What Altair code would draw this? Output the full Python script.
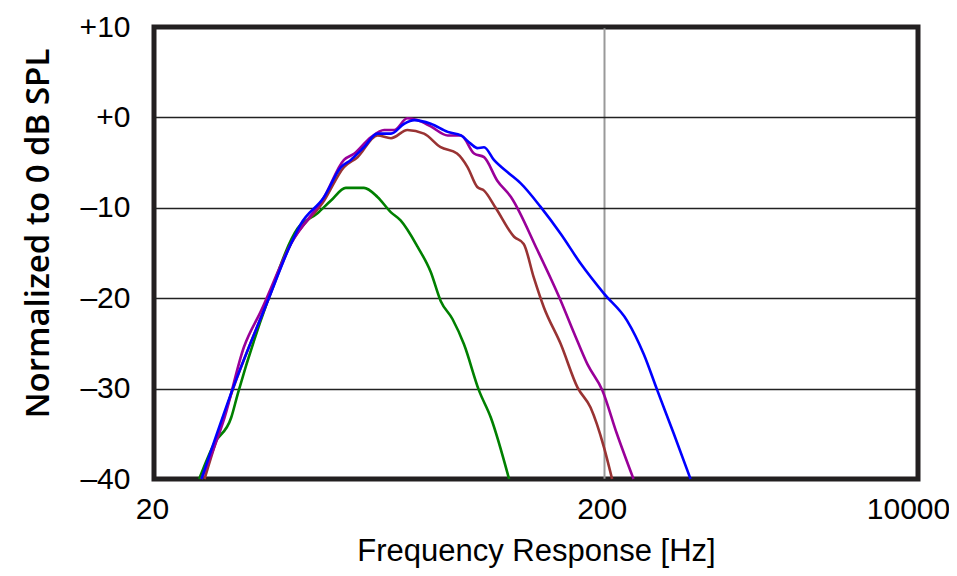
import altair as alt
import pandas as pd

# Series (frequency in Hz, level in dB)
green_f = [25.2, 27.2, 29.7, 30.7, 35.8, 41.7, 46.2, 49.5, 53.4, 58.6, 62.8, 67.3, 70.7, 77.1, 82.5, 86.8, 92.2, 97.8, 105.6, 112.2, 123.2]
green_db = [-40, -36.1, -33.2, -30.6, -20.3, -12.3, -10.6, -9.2, -7.8, -7.8, -8.8, -10.5, -11.4, -14.3, -17.1, -20.3, -22.3, -25.1, -30.2, -33.2, -40]

brown_f = [25.9, 29.7, 35.8, 40.3, 47.8, 52.9, 56.7, 62.8, 67.3, 73.2, 79.7, 86.8, 94.4, 99.6, 104.7, 108.4, 115, 126.4, 132.8, 139.8, 147.2, 160.6, 175, 187, 200.3, 208.8]
brown_db = [-40, -30.6, -20.3, -14.0, -9.2, -5.5, -4.4, -2.0, -2.3, -1.4, -1.8, -3.3, -4.0, -5.5, -7.7, -8.1, -10.0, -13.2, -14.0, -17.7, -21.0, -25.1, -29.9, -32.1, -36.5, -40]

purple_f = [25.5, 28.7, 31.7, 34.6, 40.3, 47.8, 52.9, 55.8, 60.7, 65, 68.4, 73.2, 77, 82.5, 90, 96.3, 103, 108.4, 116, 124.4, 142.5, 160.6, 172, 184, 198.7, 214, 233]
purple_db = [-40, -33.2, -25.4, -21.4, -14.0, -8.8, -4.7, -4.0, -2.2, -1.4, -1.4, -0.1, -0.3, -1.0, -2.0, -2.0, -4.0, -4.4, -7.0, -8.8, -14.7, -20.3, -23.9, -27.3, -30.2, -35.0, -40]

blue_f = [25.5, 30.2, 35.8, 40.3, 42.4, 47.8, 52.1, 54.8, 58.6, 62.8, 67.3, 72, 75.8, 82.5, 90, 96.3, 101.2, 104.7, 108.4, 114, 123.2, 130.8, 144.8, 160.6, 177.9, 200.3, 225.6, 245.6, 263.2, 286.4, 312]
blue_db = [-40, -29.5, -20.3, -14.0, -11.8, -8.8, -5.5, -4.7, -3.3, -1.8, -1.8, -0.7, -0.3, -0.7, -1.6, -2.0, -2.9, -3.4, -3.3, -4.7, -6.2, -7.3, -9.9, -12.9, -16.2, -19.5, -22.5, -26.2, -30.2, -35.0, -40]

series_names = ["green", "brown", "purple", "blue"]
series_colors = ["#008000", "#993333", "#990099", "#0000ff"]

x_ticks = [20, 200, 1000]
y_ticks = [-40, -30, -20, -10, 0, 10]

rows = []
for name, fs, dbs in [("green", green_f, green_db), ("brown", brown_f, brown_db),
                      ("purple", purple_f, purple_db), ("blue", blue_f, blue_db)]:
    for i, (f, d) in enumerate(zip(fs, dbs)):
        rows.append({"series": name, "freq": f, "db": d, "i": i})
df = pd.DataFrame(rows)

FONT = "Liberation Sans"

x_enc = alt.X(
    "freq:Q",
    scale=alt.Scale(type="log", domain=[20, 1000], nice=False),
    axis=alt.Axis(
        values=x_ticks,
        labelExpr="datum.value == 1000 ? '10000' : format(datum.value, 'd')",
        title="Frequency Response [Hz]",
        grid=True,
        gridColor={"condition": {"test": "datum.value == 200", "value": "#999999"}, "value": "transparent"},
        gridWidth=2,
        ticks=False,
        domain=False,
        labelFlush=False,
        labelPadding=15,
        labelOffset={"condition": {"test": "datum.value == 1000", "value": -10}, "value": -2},
        labelFont=FONT,
        labelFontSize=30,
        labelColor="#000000",
        titleFont=FONT,
        titleFontSize=31,
        titleFontWeight="normal",
        titleColor="#000000",
        titleX=382,
        titleY=81,
        titleBaseline="alphabetic",
        titleAlign="center",
    ),
)

y_enc = alt.Y(
    "db:Q",
    scale=alt.Scale(domain=[-40, 10], nice=False, zero=False),
    axis=alt.Axis(
        values=y_ticks,
        labelExpr="datum.value > 0 ? '+' + datum.value : (datum.value == 0 ? '+0' : '\u2013' + abs(datum.value))",
        title="Normalized to 0 dB SPL",
        grid=True,
        gridColor="#222222",
        gridWidth=1.5,
        ticks=False,
        domain=False,
        labelPadding=24,
        labelFont=FONT,
        labelFontSize=30,
        labelColor="#000000",
        titleFont="Open Sans",
        titleFontSize=33,
        titleFontWeight=600,
        titleColor="#000000",
        titleAngle=270,
        titleX=-106,
        titleY=206,
        titleBaseline="alphabetic",
        titleAlign="center",
    ),
)

layers = []
for name, color in zip(series_names, series_colors):
    layers.append(
        alt.Chart(df)
        .transform_filter(alt.datum.series == name)
        .mark_line(color=color, strokeWidth=2.6, interpolate="monotone")
        .encode(x=x_enc, y=y_enc, order="i:Q")
    )

chart = (
    alt.layer(*layers)
    .properties(
        width=764,
        height=452,
        autosize=alt.AutoSizeParams(type="none"),
        padding={"left": 146, "top": 19, "right": 31, "bottom": 89},
    )
    .configure(background="white")
    .configure_view(stroke="#231f20", strokeWidth=5)
)

chart.save("out.html", embed_options={"renderer": "svg", "actions": False})
